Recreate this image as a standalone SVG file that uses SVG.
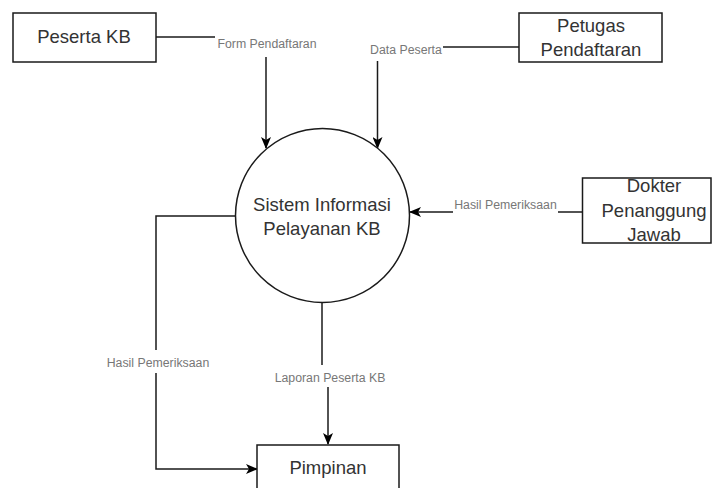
<svg xmlns="http://www.w3.org/2000/svg" width="712" height="488" viewBox="0 0 712 488">
<style>
.box{fill:#fff;stroke:#1a1a1a;stroke-width:1.5}
.t{font-family:"Liberation Sans",Arial,sans-serif;font-size:18.5px;fill:#333;text-anchor:middle}
.lbl{font-family:"Liberation Sans",Arial,sans-serif;font-size:12.3px;fill:#777;text-anchor:middle}
.ln{fill:none;stroke:#1a1a1a;stroke-width:1.5}
</style>
<defs>
<marker id="arr" markerUnits="userSpaceOnUse" viewBox="0 0 12 10" refX="11" refY="5" markerWidth="12" markerHeight="10" orient="auto">
<path d="M0,0 L12,5 L0,10 L3,5 Z" fill="#000"/>
</marker>
</defs>
<rect width="712" height="488" fill="#fff"/>
<g id="connectors">
<g id="e-form">
<path class="ln" d="M156,37 H215"/>
<path class="ln" d="M266,57 V148" marker-end="url(#arr)"/>
<text class="lbl" x="267" y="48">Form Pendaftaran</text>
</g>
<g id="e-data">
<path class="ln" d="M519,47 H443"/>
<path class="ln" d="M377.5,61 V148" marker-end="url(#arr)"/>
<text class="lbl" x="406" y="54">Data Peserta</text>
</g>
<g id="e-hasil1">
<path class="ln" d="M582,212 H558"/>
<path class="ln" d="M453,212 H410" marker-end="url(#arr)"/>
<text class="lbl" x="505.5" y="209">Hasil Pemeriksaan</text>
</g>
<g id="e-hasil2">
<path class="ln" d="M236,216 H156 V350"/>
<path class="ln" d="M156,373 V469 H257" marker-end="url(#arr)"/>
<text class="lbl" x="158" y="367">Hasil Pemeriksaan</text>
</g>
<g id="e-laporan">
<path class="ln" d="M322,303 V365"/>
<path class="ln" d="M328,387 V444" marker-end="url(#arr)"/>
<text class="lbl" x="330" y="382">Laporan Peserta KB</text>
</g>
</g>
<g id="peserta">
<rect class="box" x="13" y="13" width="143" height="49"/>
<text class="t" x="84" y="43">Peserta KB</text>
</g>
<g id="petugas">
<rect class="box" x="519" y="13" width="143" height="49"/>
<text class="t" x="591" y="31.5">Petugas</text>
<text class="t" x="591" y="56">Pendaftaran</text>
</g>
<g id="sistem">
<circle class="box" cx="322.5" cy="215.5" r="87"/>
<text class="t" x="322" y="211">Sistem Informasi</text>
<text class="t" x="322" y="235">Pelayanan KB</text>
</g>
<g id="dokter">
<rect class="box" x="582.5" y="178" width="128.5" height="65"/>
<text class="t" x="654" y="192">Dokter</text>
<text class="t" x="654" y="216.5">Penanggung</text>
<text class="t" x="654" y="241">Jawab</text>
</g>
<g id="pimpinan">
<rect class="box" x="257" y="445" width="142" height="49"/>
<text class="t" x="328" y="474">Pimpinan</text>
</g>
</svg>
